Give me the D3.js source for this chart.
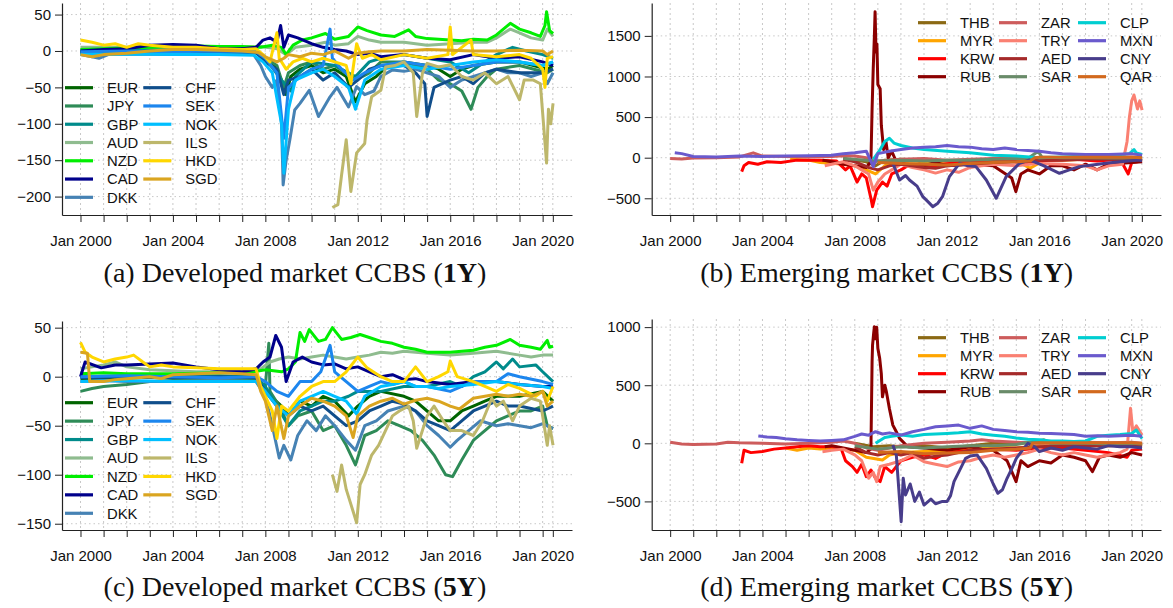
<!DOCTYPE html>
<html>
<head>
<meta charset="utf-8">
<script src="https://cdn.jsdelivr.net/npm/d3@7"></script>
<style>
  body { margin: 0; background: #fff; }
  text { font-family: "Liberation Sans", Arial, sans-serif; }
</style>
</head>
<body>
<svg id="fig" width="1173" height="608"></svg>
<script>
// ---- series: [decimal year, basis points] ----
// Developed market, 1Y
const EUR_1Y = [[2000,-2],[2001,-1],[2002,0],[2003,1],[2004,0],[2005,1],[2006,0],[2007,0],[2007.6,-2],[2007.9,-10],[2008.3,-15],[2008.7,-40],[2008.9,-60],[2009.1,-35],[2009.5,-25],[2010,-20],[2010.5,-30],[2011,-25],[2011.5,-35],[2011.9,-70],[2012.3,-45],[2012.8,-35],[2013.3,-20],[2014,-15],[2015,-20],[2015.5,-25],[2016,-35],[2016.5,-25],[2017,-20],[2018,-15],[2019,-15],[2020.2,-25],[2020.45,-20]];
const JPY_1Y = [[2000,-3],[2002,-2],[2004,-3],[2006,-2],[2007.6,-3],[2008,-10],[2008.5,-20],[2008.8,-50],[2009,-30],[2009.5,-20],[2010,-15],[2010.5,-25],[2011,-20],[2011.9,-40],[2012.5,-30],[2013,-15],[2014,-15],[2015,-25],[2015.5,-40],[2016,-45],[2016.5,-55],[2016.9,-80],[2017.2,-50],[2017.6,-35],[2018,-25],[2019,-20],[2020.2,-30],[2020.45,-25]];
const GBP_1Y = [[2000,0],[2003,2],[2006,1],[2007.6,0],[2008,-10],[2008.7,-40],[2009.1,-55],[2009.3,-35],[2010,-15],[2011,-20],[2011.9,-35],[2012.5,-15],[2013,-10],[2014,-5],[2015,-10],[2016,-15],[2016.8,-30],[2017.5,-15],[2018,-5],[2018.7,5],[2019.3,0],[2020,-5],[2020.45,-10]];
const AUD_1Y = [[2000,5],[2002,5],[2004,6],[2006,5],[2007.8,6],[2008.5,3],[2008.9,-5],[2009.3,5],[2010,8],[2010.6,12],[2011,8],[2011.6,10],[2012,20],[2012.5,15],[2013,12],[2014,12],[2014.5,10],[2015,8],[2016,10],[2017,12],[2017.6,12],[2018,18],[2018.6,30],[2019,25],[2019.5,18],[2020,15],[2020.2,30],[2020.45,20]];
const NZD_1Y = [[2000,2],[2001,3],[2002,4],[2003,5],[2004,6],[2005,7],[2006,6],[2007,6],[2007.8,5],[2008.3,8],[2008.7,5],[2008.9,-5],[2009.2,8],[2009.6,15],[2010,18],[2010.6,24],[2011,16],[2011.6,20],[2012,33],[2012.4,28],[2013,22],[2013.6,20],[2014.2,29],[2014.5,20],[2015,17],[2016,15],[2016.5,14],[2017,16],[2017.6,15],[2018,22],[2018.6,38],[2019,30],[2019.5,25],[2019.9,20],[2020.1,35],[2020.17,54],[2020.3,28],[2020.45,24]];
const CAD_1Y = [[2000,0],[2001,2],[2002,3],[2003,8],[2004,9],[2005,8],[2006,3],[2007,3],[2007.6,5],[2007.9,15],[2008.2,18],[2008.5,12],[2008.66,35],[2008.8,5],[2009,22],[2009.4,18],[2010,10],[2010.5,5],[2011,2],[2011.5,0],[2012,-5],[2012.5,-3],[2013,-8],[2014,-5],[2015,-10],[2016,-12],[2017,-5],[2018,-10],[2019,-8],[2020,-15],[2020.45,-20]];
const DKK_1Y = [[2000,-5],[2000.5,-8],[2000.8,-10],[2001.2,-5],[2002,-4],[2004,-5],[2006,-4],[2007.5,-5],[2007.8,-20],[2008,-35],[2008.3,-50],[2008.5,-40],[2008.7,-100],[2008.77,-184],[2008.9,-150],[2009.06,-122],[2009.27,-81],[2009.5,-72],[2009.9,-54],[2010.3,-90],[2010.8,-63],[2011.1,-50],[2011.6,-77],[2011.95,-49],[2012.3,-60],[2012.7,-55],[2013,-35],[2013.5,-26],[2014,-28],[2014.5,-25],[2015,-30],[2015.5,-35],[2016,-50],[2016.5,-40],[2017,-35],[2017.5,-30],[2018,-25],[2018.5,-30],[2019,-30],[2019.5,-35],[2020,-30],[2020.2,-45],[2020.45,-30]];
const CHF_1Y = [[2000,-2],[2002,-1],[2004,-2],[2006,-1],[2007.6,-2],[2008,-15],[2008.5,-25],[2008.8,-60],[2009,-40],[2009.5,-35],[2010,-25],[2010.5,-40],[2011,-30],[2011.6,-50],[2012,-40],[2012.5,-25],[2013,-20],[2014,-20],[2014.5,-30],[2014.9,-45],[2015,-90],[2015.3,-50],[2016,-40],[2016.5,-35],[2017,-45],[2017.5,-30],[2018,-25],[2019,-30],[2020,-30],[2020.45,-25]];
const SEK_1Y = [[2000,-1],[2002,0],[2004,-1],[2006,0],[2007.6,-1],[2008,-10],[2008.5,-30],[2008.8,-120],[2009,-50],[2009.5,-35],[2010,-25],[2010.5,-20],[2010.8,30],[2010.9,-10],[2011.3,-25],[2011.8,-40],[2012.3,-30],[2013,-20],[2014,-15],[2015,-20],[2016,-25],[2017,-20],[2018,-15],[2019,-15],[2020,-20],[2020.45,-15]];
const NOK_1Y = [[2000,-5],[2002,-4],[2004,-5],[2006,-5],[2007.5,-6],[2007.9,-15],[2008.3,-30],[2008.7,-100],[2008.8,-168],[2009,-80],[2009.3,-40],[2010,-30],[2010.5,-25],[2011,-35],[2011.6,-50],[2011.9,-80],[2012.3,-40],[2013,-25],[2014,-20],[2015,-25],[2016,-20],[2017,-15],[2018,-12],[2019,-15],[2020,-20],[2020.45,-15]];
const ILS_1Y = [[2010.9,-215],[2011.14,-211],[2011.3,-170],[2011.5,-122],[2011.7,-193],[2011.95,-140],[2012.3,-127],[2012.4,-95],[2012.6,-63],[2013,-54],[2013.2,-22],[2013.6,-20],[2014,-15],[2014.4,-30],[2014.55,-90],[2014.8,-30],[2015,-17],[2015.5,-22],[2016,-19],[2016.5,-35],[2017,-40],[2017.5,-30],[2018,-45],[2018.5,-35],[2019,-67],[2019.2,-40],[2019.6,-40],[2019.9,-45],[2020.17,-154],[2020.25,-80],[2020.35,-100],[2020.45,-72]];
const HKD_1Y = [[2000,15],[2000.5,12],[2001,8],[2001.5,10],[2002,5],[2002.5,10],[2003,8],[2004,5],[2005,5],[2006,3],[2007,2],[2007.6,3],[2007.9,-5],[2008.2,-15],[2008.5,25],[2008.6,-10],[2008.9,-25],[2009.2,-15],[2009.6,-10],[2010,-15],[2010.5,-10],[2011,-15],[2011.5,-20],[2011.7,-45],[2011.95,10],[2012.2,-10],[2012.6,-5],[2013,-12],[2014,-5],[2015,-10],[2015.9,-5],[2016,33],[2016.1,-5],[2016.9,15],[2017,-5],[2018,-8],[2019,-5],[2019.5,-10],[2020,-25],[2020.1,-50],[2020.2,-10],[2020.45,-8]];
const SGD_1Y = [[2000,-5],[2000.5,-8],[2001,-5],[2002,-3],[2003,0],[2004,2],[2005,2],[2006,1],[2007,0],[2007.7,-2],[2008,-8],[2008.5,-15],[2008.8,-10],[2009,-5],[2009.5,-8],[2010,-3],[2010.5,-5],[2011,0],[2011.6,-10],[2012,-3],[2012.5,-1],[2013,0],[2014,0],[2015,2],[2016,1],[2017,0],[2018,0],[2019,1],[2020,0],[2020.2,-5],[2020.45,0]];

// Emerging market, 1Y
const THB_1Y = [[2007.5,-10],[2008,-30],[2008.5,-50],[2008.9,-100],[2009.3,-30],[2010,-20],[2011,-30],[2012,-40],[2013,-30],[2014,-20],[2015,-10],[2016,0],[2017,-5],[2018,0],[2019,-5],[2020,0],[2020.45,-10]];
const MYR_1Y = [[2005.2,-20],[2006,-30],[2006.5,-60],[2007,-70],[2007.5,-80],[2008,-100],[2008.5,-150],[2008.9,-200],[2009.3,-100],[2009.8,-60],[2010.5,-40],[2011,-50],[2012,-80],[2013,-60],[2014,-50],[2015,-40],[2015.6,-130],[2016.2,-30],[2017,-30],[2018,-20],[2019,-20],[2020,-30],[2020.45,-20]];
const KRW_1Y = [[2003.1,-172],[2003.2,-100],[2003.4,-60],[2003.8,-80],[2004.2,-50],[2004.8,-60],[2005.5,-30],[2006.5,-30],[2007.2,-40],[2007.6,-150],[2007.8,-100],[2008.1,-300],[2008.3,-200],[2008.5,-250],[2008.7,-500],[2008.77,-603],[2008.95,-400],[2009.2,-300],[2009.4,-350],[2009.6,-200],[2010,-150],[2010.3,-100],[2010.8,-80],[2011.3,-120],[2011.8,-80],[2012.5,-60],[2013.5,-50],[2014.5,-40],[2015.5,-60],[2016.5,-30],[2017.5,-20],[2018.5,-40],[2019.5,-20],[2019.85,-200],[2020,-60],[2020.45,-40]];
const RUB_1Y = [[2006.6,-30],[2007,-50],[2007.5,-80],[2008,-100],[2008.5,-120],[2008.7,-50],[2008.75,600],[2008.8,1100],[2008.85,1500],[2008.88,1798],[2008.92,1300],[2008.96,1400],[2009.0,900],[2009.1,850],[2009.15,400],[2009.25,100],[2009.35,200],[2009.45,0],[2009.6,80],[2009.8,-50],[2010.2,-80],[2011,-100],[2011.5,-60],[2012,-100],[2013,-80],[2014,-100],[2014.8,-250],[2014.98,-418],[2015.2,-200],[2015.5,-150],[2016,-200],[2016.5,-100],[2017,-100],[2017.5,-150],[2018,-80],[2018.5,-150],[2019,-80],[2020,-60],[2020.45,-50]];
const ZAR_1Y = [[2000,-10],[2000.5,-15],[2001,-5],[2002,0],[2003,10],[2003.6,60],[2004,20],[2005,15],[2006,10],[2007,15],[2007.5,25],[2008,20],[2008.5,0],[2008.8,-60],[2009,-40],[2009.5,-30],[2010,-20],[2011,-10],[2012,-30],[2013,-20],[2014,-10],[2015,-10],[2016,0],[2017,0],[2018,5],[2019,0],[2020,10],[2020.45,5]];
const TRY_1Y = [[2006.7,-100],[2007,-80],[2007.5,-50],[2008,-100],[2008.3,-150],[2008.6,-200],[2008.8,-400],[2009,-300],[2009.3,-200],[2009.6,-150],[2010,-80],[2010.5,-120],[2011,-150],[2011.5,-190],[2012,-150],[2012.5,-180],[2013,-120],[2013.5,-100],[2014,-80],[2015,-100],[2016,-70],[2017,-80],[2018,-100],[2018.5,-150],[2019,-100],[2019.6,-80],[2019.8,200],[2019.9,500],[2020,700],[2020.1,772],[2020.25,600],[2020.35,700],[2020.45,587]];
const AED_1Y = [[2007.5,-20],[2008,-50],[2008.6,-120],[2009,-150],[2009.5,-100],[2010,-80],[2011,-120],[2011.5,-130],[2012,-100],[2013,-80],[2014,-60],[2015,-50],[2016,-30],[2017,-30],[2018,-20],[2019,-20],[2020,-30],[2020.45,-20]];
const SAR_1Y = [[2007.5,-10],[2008.5,-30],[2009,-40],[2010,-30],[2011,-40],[2012,-30],[2013,-30],[2014,-20],[2015.5,-10],[2015.95,80],[2016.1,10],[2017,0],[2018,0],[2019,-5],[2020,0],[2020.45,-5]];
const CLP_1Y = [[2008.8,-20],[2009.1,100],[2009.3,200],[2009.5,239],[2009.7,180],[2010,150],[2010.5,120],[2011,100],[2012,80],[2013,60],[2014,30],[2015,20],[2016,0],[2017,10],[2018,20],[2019,20],[2019.9,50],[2020.1,100],[2020.2,60],[2020.45,40]];
const MXN_1Y = [[2000.2,62],[2000.5,50],[2001,15],[2002,10],[2003,20],[2004,15],[2005,20],[2006,25],[2007,30],[2007.5,50],[2008,60],[2008.5,80],[2008.8,-110],[2009,50],[2009.5,80],[2010,100],[2010.5,120],[2011,130],[2011.5,135],[2012,150],[2012.5,135],[2013,130],[2013.5,110],[2014,100],[2014.5,120],[2015,100],[2015.5,90],[2016,80],[2016.5,60],[2017,50],[2018,40],[2019,40],[2020,50],[2020.45,30]];
const CNY_1Y = [[2009.65,-69],[2009.94,-275],[2010.2,-220],[2010.37,-275],[2010.7,-350],[2010.95,-480],[2011.2,-550],[2011.38,-603],[2011.6,-560],[2011.8,-480],[2012.1,-233],[2012.54,-69],[2012.9,-100],[2013.25,-110],[2013.7,-275],[2014.13,-500],[2014.56,-233],[2015.14,-69],[2015.57,-28],[2016.2,-100],[2016.87,-192],[2017.3,-150],[2017.73,-110],[2018.3,-90],[2018.87,-69],[2019.5,-50],[2020.33,-28],[2020.45,-40]];
const QAR_1Y = [[2009,-60],[2010,-70],[2011,-80],[2012,-90],[2013,-70],[2014,-60],[2015,-50],[2015.6,-40],[2015.8,0],[2016,5],[2017,5],[2018,5],[2019,5],[2020,5],[2020.45,0]];

// Developed market, 5Y
const EUR_5Y = [[2000,-2],[2002,-1],[2004,0],[2006,-1],[2007.6,-2],[2008,-15],[2008.7,-30],[2009,-40],[2009.5,-25],[2010,-30],[2010.5,-20],[2011,-25],[2011.6,-40],[2012,-30],[2012.5,-20],[2013,-15],[2014,-20],[2014.5,-25],[2015,-35],[2015.5,-45],[2016,-45],[2016.5,-35],[2017,-30],[2017.5,-25],[2018,-20],[2019,-20],[2020,-15],[2020.45,-25]];
const JPY_5Y = [[2000,-15],[2000.5,-12],[2001,-10],[2002,-8],[2003,-5],[2004,-4],[2005,-3],[2006,-3],[2007,-2],[2007.6,-2],[2008,-10],[2008.15,34],[2008.2,-15],[2008.6,-30],[2009,-50],[2009.4,-40],[2010,-35],[2010.5,-55],[2011,-50],[2011.5,-70],[2011.9,-90],[2012.3,-60],[2012.8,-55],[2013.3,-45],[2013.8,-50],[2014.3,-55],[2014.8,-65],[2015.3,-80],[2015.8,-100],[2016.1,-102],[2016.5,-85],[2017,-65],[2017.5,-55],[2018,-45],[2018.5,-40],[2019,-35],[2019.5,-35],[2020,-30],[2020.2,-50],[2020.45,-53]];
const GBP_5Y = [[2000,0],[2002,1],[2004,0],[2006,1],[2007.6,0],[2008,-10],[2008.5,-30],[2009,-50],[2009.5,-35],[2010,-30],[2010.5,-25],[2011,-25],[2011.6,-20],[2012,-15],[2013,-15],[2014,-10],[2015,-10],[2016,-5],[2016.5,-10],[2017,0],[2017.5,5],[2018,15],[2018.3,8],[2018.7,18],[2019,10],[2019.7,12],[2020,5],[2020.45,-5]];
const AUD_5Y = [[2000,8],[2000.5,10],[2001,12],[2001.5,15],[2002,10],[2003,7],[2004,6],[2005,5],[2006,5],[2007,5],[2007.8,8],[2008.2,15],[2008.6,18],[2009,20],[2009.5,18],[2010,20],[2010.5,22],[2011,20],[2011.5,18],[2012,20],[2012.5,22],[2013,25],[2013.5,24],[2014,26],[2014.5,25],[2015,24],[2016,22],[2017,24],[2018,26],[2019,22],[2019.5,20],[2020,22],[2020.45,22]];
const NZD_5Y = [[2000,3],[2001,4],[2002,3],[2004,3],[2006,4],[2007.5,5],[2008,7],[2008.7,5],[2009,8],[2009.3,15],[2009.5,45],[2009.7,36],[2009.9,48],[2010.3,36],[2010.6,38],[2010.9,50],[2011.3,38],[2011.7,40],[2012.1,43],[2012.5,40],[2013,36],[2013.5,34],[2014,30],[2014.5,28],[2015,25],[2015.5,25],[2016,25],[2016.5,26],[2017,27],[2017.5,30],[2018,32],[2018.6,38],[2019,32],[2019.5,30],[2019.9,28],[2020.2,37],[2020.3,30],[2020.45,31]];
const CAD_5Y = [[2000,0],[2000.2,15],[2000.9,9],[2001.5,12],[2002,12],[2003,13],[2004,14],[2005,10],[2006,7],[2007,5],[2007.6,8],[2007.9,15],[2008.2,20],[2008.45,42],[2008.7,30],[2008.9,-5],[2009.2,15],[2009.6,20],[2010,15],[2010.5,12],[2011,13],[2011.5,8],[2012,10],[2012.5,5],[2013,0],[2013.5,2],[2014,-3],[2014.5,-2],[2015,-5],[2016,-8],[2017,-5],[2018,-5],[2019,-8],[2020,-10],[2020.45,-10]];
const DKK_5Y = [[2000,-5],[2001,-4],[2002,-5],[2004,-5],[2006,-4],[2007.6,-5],[2008,-20],[2008.3,-50],[2008.6,-83],[2008.8,-70],[2009.1,-85],[2009.4,-60],[2009.8,-45],[2010.2,-55],[2010.6,-40],[2011,-50],[2011.5,-65],[2011.9,-75],[2012.3,-50],[2012.8,-45],[2013.3,-35],[2014,-30],[2014.5,-35],[2015,-50],[2015.5,-60],[2016,-72],[2016.3,-65],[2016.8,-55],[2017.3,-45],[2018,-50],[2018.5,-48],[2019,-50],[2019.5,-52],[2020,-48],[2020.45,-53]];
const CHF_5Y = [[2000,-1],[2002,0],[2004,-1],[2006,0],[2007.6,-1],[2008,-15],[2008.5,-30],[2009,-40],[2009.5,-30],[2010,-35],[2010.5,-30],[2011,-40],[2011.5,-50],[2012,-45],[2012.5,-35],[2013,-30],[2013.5,-25],[2014,-28],[2014.5,-35],[2015,-45],[2015.5,-50],[2016,-55],[2016.5,-45],[2017,-35],[2017.5,-30],[2018,-25],[2018.5,-30],[2019,-30],[2020,-35],[2020.45,-30]];
const SEK_5Y = [[2000,0],[2002,1],[2004,0],[2006,-1],[2007.6,0],[2008,-5],[2008.5,-15],[2009,-20],[2009.5,-5],[2010,-5],[2010.4,5],[2010.8,32],[2011,5],[2011.5,-5],[2012,-15],[2012.5,-10],[2013,-5],[2013.5,-8],[2014,-5],[2014.5,-10],[2015,-10],[2016,-15],[2016.5,-10],[2017,-5],[2018,-5],[2018.5,3],[2019,0],[2020,-5],[2020.45,-8]];
const NOK_5Y = [[2000,-5],[2002,-4],[2004,-5],[2006,-5],[2007.6,-5],[2008,-15],[2008.5,-30],[2009,-40],[2009.5,-25],[2010,-20],[2010.5,-15],[2011,-20],[2011.5,-25],[2011.95,-38],[2012.3,-20],[2013,-10],[2013.5,-8],[2014,-5],[2014.5,-10],[2015,-10],[2015.5,-12],[2016,-10],[2017,-8],[2018,-5],[2019,-8],[2020,-10],[2020.45,-12]];
const ILS_5Y = [[2010.9,-100],[2011.1,-117],[2011.3,-90],[2011.5,-115],[2011.7,-130],[2011.95,-149],[2012.1,-110],[2012.3,-100],[2012.6,-80],[2012.9,-70],[2013.2,-55],[2013.5,-40],[2013.8,-35],[2014.2,-30],[2014.4,-45],[2014.55,-73],[2015,-40],[2015.3,-30],[2015.7,-45],[2016,-55],[2016.5,-55],[2017,-60],[2017.4,-45],[2017.8,-22],[2018,-30],[2018.3,-25],[2018.7,-45],[2019,-30],[2019.5,-22],[2019.9,-25],[2020.2,-70],[2020.3,-50],[2020.45,-70]];
const HKD_5Y = [[2000,35],[2000.2,25],[2000.5,20],[2001,15],[2001.5,18],[2002,20],[2002.3,22],[2002.7,15],[2003,10],[2003.5,12],[2004,10],[2005,9],[2006,8],[2007,8],[2007.6,8],[2007.8,-10],[2008,-20],[2008.3,-35],[2008.5,-63],[2008.7,-30],[2009,-35],[2009.5,-20],[2010,-10],[2010.5,-5],[2011,-5],[2011.5,5],[2012,20],[2012.4,9],[2013,0],[2013.5,-5],[2014,-5],[2014.5,10],[2015,-5],[2015.5,0],[2015.9,5],[2016,16],[2016.3,0],[2017,-5],[2017.5,-10],[2018,-15],[2018.5,-8],[2019,-12],[2019.7,-20],[2020,-15],[2020.2,-25],[2020.45,-10]];
const SGD_5Y = [[2000,25],[2000.3,24],[2000.4,-5],[2001,-5],[2001.5,-3],[2002,-2],[2003,0],[2003.5,-2],[2004,2],[2005,3],[2006,4],[2007,3],[2007.6,2],[2007.8,-15],[2008,-25],[2008.3,-55],[2008.5,-30],[2008.8,-63],[2009,-40],[2009.5,-30],[2010,-22],[2010.5,-25],[2011,-30],[2011.5,-40],[2011.8,-62],[2012,-40],[2012.5,-30],[2013,-25],[2013.5,-22],[2014,-28],[2014.5,-24],[2015,-22],[2015.5,-25],[2016,-30],[2016.4,-33],[2017,-22],[2017.5,-20],[2018,-18],[2018.5,-20],[2019,-18],[2019.5,-20],[2020,-15],[2020.2,-30],[2020.45,-25]];

// Emerging market, 5Y
const THB_5Y = [[2008,0],[2008.8,-30],[2009.5,-20],[2010,-30],[2011,-20],[2012,-40],[2013,-20],[2014,0],[2015,0],[2016,10],[2017,0],[2018,0],[2019,-10],[2020,0],[2020.45,-10]];
const MYR_5Y = [[2005.0,-40],[2005.5,-60],[2006,-40],[2006.5,-50],[2007,-40],[2007.5,-50],[2008,-60],[2008.5,-120],[2009.2,-144],[2009.5,-100],[2010,-80],[2011,-70],[2012,-60],[2013,-40],[2014,-30],[2015,-40],[2016,-20],[2017,-20],[2018,-20],[2019,-20],[2020,-10],[2020.45,-20]];
const KRW_5Y = [[2003.1,-172],[2003.2,-60],[2003.5,-80],[2004,-70],[2004.5,-50],[2005,-40],[2005.5,-30],[2006,-20],[2006.5,-30],[2007,-30],[2007.4,-40],[2007.6,-150],[2007.9,-200],[2008.1,-250],[2008.3,-180],[2008.5,-287],[2008.7,-230],[2008.9,-300],[2009.1,-330],[2009.3,-200],[2009.6,-250],[2010,-150],[2010.5,-120],[2011,-100],[2011.5,-130],[2012,-80],[2013,-60],[2014,-50],[2015,-60],[2016,-40],[2017,-40],[2018,-60],[2019,-80],[2019.8,-120],[2020,-60],[2020.45,-50]];
const RUB_5Y = [[2006.7,-30],[2007,-20],[2007.5,-40],[2008,-60],[2008.5,-80],[2008.7,-50],[2008.75,700],[2008.77,846],[2008.82,950],[2008.85,1003],[2008.9,900],[2008.95,1000],[2009.0,817],[2009.08,731],[2009.15,600],[2009.2,400],[2009.3,500],[2009.37,444],[2009.5,300],[2009.65,157],[2009.8,100],[2009.94,43],[2010.3,-30],[2011,-40],[2012,-60],[2013,-30],[2013.5,-50],[2014,-60],[2014.6,-150],[2014.99,-330],[2015.2,-150],[2015.5,-200],[2016,-150],[2016.5,-170],[2017,-100],[2017.5,-120],[2018,-150],[2018.3,-244],[2018.6,-120],[2019,-100],[2019.5,-120],[2020,-80],[2020.45,-100]];
const ZAR_5Y = [[2000,9],[2000.5,-5],[2001,-10],[2002,-5],[2002.5,10],[2003,5],[2004,0],[2005,-5],[2006,0],[2007,10],[2007.5,20],[2008,0],[2008.5,-40],[2009,-60],[2009.5,-40],[2010,-20],[2010.5,-10],[2011,0],[2012,10],[2013,20],[2013.5,30],[2014,20],[2015,10],[2016,0],[2017,5],[2018,10],[2019,5],[2020,10],[2020.45,0]];
const TRY_5Y = [[2006.6,-72],[2007,-60],[2007.5,-50],[2008,-100],[2008.3,-150],[2008.6,-301],[2008.8,-250],[2008.95,-330],[2009.1,-200],[2009.5,-180],[2010,-150],[2010.5,-100],[2011,-158],[2011.5,-180],[2012,-200],[2012.5,-160],[2013,-150],[2013.5,-120],[2014,-100],[2014.5,-120],[2015,-100],[2015.5,-80],[2016,-50],[2016.5,-80],[2017,-100],[2017.5,-80],[2018,-100],[2018.5,-120],[2019,-100],[2019.5,-80],[2019.8,-50],[2019.95,301],[2020.05,100],[2020.2,150],[2020.45,71]];
const AED_5Y = [[2008,-30],[2008.5,-80],[2009,-100],[2009.5,-80],[2010,-100],[2010.5,-80],[2011,-129],[2011.5,-110],[2012,-100],[2012.5,-80],[2013,-60],[2014,-50],[2015,-40],[2016,-30],[2017,-20],[2018,-20],[2019,-20],[2020,-10],[2020.45,-20]];
const SAR_5Y = [[2008,-20],[2009,-50],[2010,-30],[2011,-40],[2012,-30],[2013,-20],[2014,-20],[2015,-10],[2015.9,20],[2016.2,30],[2016.5,0],[2017,0],[2018,0],[2019,-5],[2020,0],[2020.45,-5]];
const CLP_5Y = [[2008.9,0],[2009.3,50],[2009.6,60],[2010,71],[2010.5,60],[2011,75],[2011.5,80],[2012,85],[2012.5,90],[2013,100],[2013.5,80],[2014,70],[2014.5,60],[2015,45],[2015.5,35],[2016,30],[2016.5,20],[2017,20],[2017.5,15],[2018,20],[2018.5,60],[2019,70],[2019.5,75],[2020,85],[2020.2,115],[2020.45,40]];
const MXN_5Y = [[2003.82,63],[2004.2,55],[2004.6,50],[2005,40],[2005.5,30],[2006,25],[2006.5,20],[2007,25],[2007.5,30],[2008,60],[2008.3,80],[2008.6,70],[2008.9,100],[2009.2,80],[2009.5,90],[2010,71],[2010.5,100],[2011,120],[2011.5,143],[2012,150],[2012.5,157],[2013,129],[2013.5,150],[2014,120],[2014.5,110],[2015,100],[2015.5,95],[2016,86],[2016.5,85],[2017,80],[2017.5,75],[2018,60],[2018.5,65],[2019,60],[2019.5,65],[2020,70],[2020.45,60]];
const CNY_5Y = [[2009.65,-15],[2009.8,-100],[2010.01,-675],[2010.1,-300],[2010.2,-445],[2010.4,-350],[2010.6,-500],[2010.8,-420],[2011,-531],[2011.3,-480],[2011.5,-520],[2011.8,-500],[2012,-500],[2012.15,-450],[2012.3,-330],[2012.5,-250],[2012.8,-129],[2013,-110],[2013.3,-100],[2013.7,-215],[2014,-350],[2014.2,-430],[2014.4,-400],[2014.6,-301],[2014.8,-220],[2015,-129],[2015.3,-50],[2015.5,0],[2015.8,-30],[2016,-72],[2016.5,-40],[2017,-60],[2017.5,-30],[2018,-40],[2018.5,-50],[2019,-20],[2019.5,-30],[2020,-30],[2020.45,-40]];
const QAR_5Y = [[2009,-80],[2010,-70],[2011,-90],[2012,-84],[2013,-80],[2014,-60],[2015,-50],[2015.6,-40],[2015.7,0],[2016,5],[2017,5],[2018,5],[2019,5],[2020,5],[2020.45,0]];

// ---- names, ticks ----
const devNames = ["EUR","JPY","GBP","AUD","NZD","CAD","DKK","CHF","SEK","NOK","ILS","HKD","SGD"];
const emNames = ["THB","MYR","KRW","RUB","ZAR","TRY","AED","SAR","CLP","MXN","CNY","QAR"];
const dev1Y = [EUR_1Y,JPY_1Y,GBP_1Y,AUD_1Y,NZD_1Y,CAD_1Y,DKK_1Y,CHF_1Y,SEK_1Y,NOK_1Y,ILS_1Y,HKD_1Y,SGD_1Y];
const dev5Y = [EUR_5Y,JPY_5Y,GBP_5Y,AUD_5Y,NZD_5Y,CAD_5Y,DKK_5Y,CHF_5Y,SEK_5Y,NOK_5Y,ILS_5Y,HKD_5Y,SGD_5Y];
const em1Y = [THB_1Y,MYR_1Y,KRW_1Y,RUB_1Y,ZAR_1Y,TRY_1Y,AED_1Y,SAR_1Y,CLP_1Y,MXN_1Y,CNY_1Y,QAR_1Y];
const em5Y = [THB_5Y,MYR_5Y,KRW_5Y,RUB_5Y,ZAR_5Y,TRY_5Y,AED_5Y,SAR_5Y,CLP_5Y,MXN_5Y,CNY_5Y,QAR_5Y];
const yearTicks = d3.range(2000, 2021).concat([2020.44]);
const labelYears = [2000, 2004, 2008, 2012, 2016, 2020];
const yTicksDev1 = [-200, -150, -100, -50, 0, 50];
const yTicksDev5 = [-150, -100, -50, 0, 50];
const yTicksEm1 = [-500, 0, 500, 1000, 1500];
const yTicksEm5 = [-500, 0, 500, 1000];

// colours (R named colours)
const devColors = ["#006400","#2E8B57","#008B8B","#8FBC8F","#00EE00","#00008B","#4682B4","#104E8B","#1C86EE","#00BFFF","#BDB76B","#FFD700","#DAA520"];
const emColors = ["#8B6914","#FFA500","#FF0000","#8B0000","#CD5C5C","#FA8072","#A52A2A","#698B69","#00CED1","#6A5ACD","#483D8B","#D2691E"];

const svg = d3.select("#fig");
const xDomain = [1999.2, 2021.27];

function drawPanel(p) {
    const x = d3.scaleLinear().domain(xDomain).range([p.left, p.right]);
    const y = d3.scaleLinear().domain(p.yDomain).range([p.bottom, p.top]);
    const g = svg.append("g");

    // dotted grid
    g.selectAll(".vg").data(yearTicks).join("line")
        .attr("x1", d => x(d)).attr("x2", d => x(d))
        .attr("y1", p.top).attr("y2", p.bottom)
        .attr("stroke", "#c8c8c8").attr("stroke-dasharray", "2,3");
    g.selectAll(".hg").data(p.yTicks).join("line")
        .attr("x1", p.left).attr("x2", p.right)
        .attr("y1", d => y(d)).attr("y2", d => y(d))
        .attr("stroke", "#c8c8c8").attr("stroke-dasharray", "1.5,3");

    // series
    const line = d3.line().x(d => x(d[0])).y(d => y(d[1]));
    g.selectAll(".s").data(p.series).join("path")
        .attr("d", line)
        .attr("fill", "none")
        .attr("stroke", (d, i) => p.colors[i])
        .attr("stroke-width", 3)
        .attr("stroke-linejoin", "round");

    // axes (L-shaped box)
    const xa = g.append("g").attr("transform", `translate(0,${p.bottom})`)
        .call(d3.axisBottom(x).tickValues(yearTicks).tickSize(7).tickSizeOuter(0).tickPadding(13)
            .tickFormat(d => labelYears.includes(d) ? "Jan " + d : ""));
    const ya = g.append("g").attr("transform", `translate(${p.left},0)`)
        .call(d3.axisLeft(y).tickValues(p.yTicks).tickSize(7).tickSizeOuter(0).tickPadding(4)
            .tickFormat(d3.format("d")));
    [xa, ya].forEach(a => {
        a.select(".domain").attr("stroke", "#222").attr("stroke-width", 1.2);
        a.selectAll(".tick line").attr("stroke", "#222");
        a.selectAll("text").attr("font-family", "Liberation Sans, Arial, sans-serif")
            .attr("font-size", 15).attr("fill", "#111");
    });

    // legend
    p.names.forEach((n, i) => {
        const col = Math.floor(i / p.legRows), row = i % p.legRows;
        const lx = p.legX[col], ly = p.legY + row * p.legDy;
        g.append("line").attr("x1", lx).attr("x2", lx + 28).attr("y1", ly).attr("y2", ly)
            .attr("stroke", p.colors[i]).attr("stroke-width", 3.2);
        g.append("text").attr("x", lx + 42).attr("y", ly).attr("dy", "0.36em")
            .attr("font-size", 14.8).attr("fill", "#111").text(n);
    });
}

drawPanel({left: 62, right: 572, top: 3, bottom: 215, yDomain: [-225.3, 65.9], yTicks: yTicksDev1,
    series: dev1Y, colors: devColors, names: devNames, legRows: 7, legX: [65, 143.3], legY: 87.7, legDy: 18.27});
drawPanel({left: 651.7, right: 1161, top: 3, bottom: 215, yDomain: [-705.7, 1905], yTicks: yTicksEm1,
    series: em1Y, colors: emColors, names: emNames, legRows: 4, legX: [918, 999, 1078], legY: 22.7, legDy: 18});
drawPanel({left: 62, right: 572, top: 321, bottom: 530, yDomain: [-156.4, 56.8], yTicks: yTicksDev5,
    series: dev5Y, colors: devColors, names: devNames, legRows: 7, legX: [65, 143.3], legY: 402.7, legDy: 18.43});
drawPanel({left: 651.7, right: 1161, top: 319, bottom: 530, yDomain: [-746, 1070], yTicks: yTicksEm5,
    series: em5Y, colors: emColors, names: emNames, legRows: 4, legX: [918, 999, 1078], legY: 337.7, legDy: 18});

// captions (serif, bold tenor)
const captions = [
    {pre: "(a) Developed market CCBS (", bold: "1Y", cx: 295, y: 282},
    {pre: "(b) Emerging market CCBS (", bold: "1Y", cx: 886.7, y: 282},
    {pre: "(c) Developed market CCBS (", bold: "5Y", cx: 295, y: 596},
    {pre: "(d) Emerging market CCBS (", bold: "5Y", cx: 886.7, y: 596}
];
const capNodes = captions.map(c => {
    const t = svg.append("text").attr("y", c.y).attr("font-size", 20)
        .style("font-family", "'Liberation Serif', 'Times New Roman', serif").attr("fill", "#111");
    t.append("tspan").text(c.pre);
    t.append("tspan").attr("font-weight", "bold").text(c.bold);
    t.append("tspan").text(")");
    return t;
});
// size from caption (a) width in the reference, shared by all
const fs = 20 * 383 / capNodes[0].node().getComputedTextLength();
capNodes.forEach((t, i) => {
    t.attr("font-size", fs);
    const w = t.node().getComputedTextLength();
    t.attr("x", captions[i].cx - w / 2);
});
</script>
</body>
</html>
